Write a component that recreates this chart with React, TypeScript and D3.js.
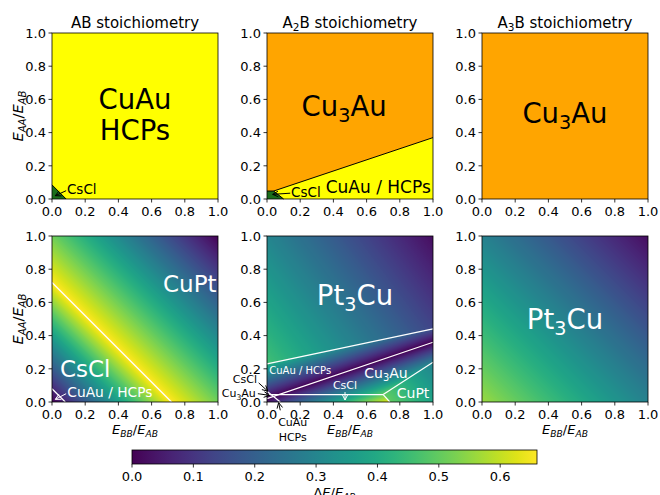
import React, { useMemo } from "react";
import * as d3 from "d3";

const FONT = "DejaVu Sans";
const YELLOW = "#ffff00";
const ORANGE = "#ffa500";
const GREEN = "#1b6e1b";

// layout of the 2x3 grid (pixels)
const panelLeft = [52, 267, 482];
const panelTop = [33, 236];
const panelSize = 166;

const axisTicks = [0, 0.2, 0.4, 0.6, 0.8, 1.0];
const cbTicks = [0, 0.1, 0.2, 0.3, 0.4, 0.5, 0.6];
const cbMax = 0.66;

type Part = { t: string; sub?: boolean; it?: boolean };

const titles: Part[][] = [
  [{ t: "AB stoichiometry" }],
  [{ t: "A" }, { t: "2", sub: true }, { t: "B stoichiometry" }],
  [{ t: "A" }, { t: "3", sub: true }, { t: "B stoichiometry" }],
];

const yLabel: Part[] = [
  { t: "E", it: true }, { t: "AA", sub: true, it: true }, { t: "/" },
  { t: "E", it: true }, { t: "AB", sub: true, it: true },
];
const xLabel: Part[] = [
  { t: "E", it: true }, { t: "BB", sub: true, it: true }, { t: "/" },
  { t: "E", it: true }, { t: "AB", sub: true, it: true },
];
const cbLabel: Part[] = [
  { t: "Δ" }, { t: "E", it: true }, { t: "/" },
  { t: "E", it: true }, { t: "AB", sub: true, it: true },
];

// top row: phase polygons in (E_BB/E_AB, E_AA/E_AB)
const FULL = [[0, 0], [1, 0], [1, 1], [0, 1]];
const abPhases = [
  { color: YELLOW, poly: FULL },
  { color: GREEN, poly: [[0, 0], [0.085, 0], [0, 0.085]] },
];
const a2bPhases = [
  { color: ORANGE, poly: FULL },
  { color: YELLOW, poly: [[0.1, 0], [1, 0], [1, 0.37], [0.04, 0.048]] },
  { color: GREEN, poly: [[0, 0], [0.1, 0], [0.04, 0.048], [0, 0.048]] },
];
const a3bPhases = [{ color: ORANGE, poly: FULL }];
const abBorders = [[[0, 0.085], [0.085, 0]]];
const a2bBorders = [
  [[0, 0.048], [0.04, 0.048], [1, 0.37]],
  [[0.04, 0.048], [0.1, 0]],
];

// bottom row: boundary lines and ΔE anchors [x, y, ΔE] per region
const abLine = [[0, 0.72], [0.72, 0]];
const abCorner = [[0, 0.08], [0.08, 0]];
const abAnchors = [
  [[0, 0, 0.0], [0.72, 0, 0.66], [0, 0.72, 0.66]],
  [[0.72, 0, 0.66], [0, 0.72, 0.66], [1, 1, 0.0]],
];

const a2bUpper = [[0, 0.23], [1, 0.44]];
const a2bLower = [[0, 0.02], [1, 0.36]];
const a2bFlat = [[0, 0.045], [0.7, 0.045]];
const a2bCuPtUp = [[0.7, 0.045], [1, 0.24]];
const a2bCuPtDown = [[0.7, 0.045], [0.74, 0]];
const a2bCorner = [[0, 0.065], [0.08, 0]];
const a2bAnchors = [
  [[0, 0.23, 0.46], [0, 1, 0.3], [1, 1, 0.02]],
  [[0, 0.02, 0], [1, 0.36, 0], [0, 0.23, 0.42]],
  [[0, 0.02, 0], [1, 0.36, 0], [0.7, 0.045, 0.5]],
  [[0.7, 0.045, 0.5], [1, 0.24, 0.29], [0.74, 0, 0.5]],
];

const a3bAnchors = [[[0, 0, 0.56], [1, 0, 0.29], [0, 1, 0.29]]];

// labels: [row, col, x, y, size, color, anchor, parts]
const labels: [number, number, number, number, number, string, string, Part[]][] = [
  [0, 0, 0.5, 0.6, 27.5, "black", "middle", [{ t: "CuAu" }]],
  [0, 0, 0.5, 0.415, 27.5, "black", "middle", [{ t: "HCPs" }]],
  [0, 0, 0.09, 0.06, 13.5, "black", "start", [{ t: "CsCl" }]],
  [0, 1, 0.465, 0.56, 27.5, "black", "middle", [{ t: "Cu" }, { t: "3", sub: true }, { t: "Au" }]],
  [0, 1, 0.67, 0.074, 17, "black", "middle", [{ t: "CuAu / HCPs" }]],
  [0, 1, 0.145, 0.04, 13.5, "black", "start", [{ t: "CsCl" }]],
  [0, 2, 0.5, 0.515, 27.5, "black", "middle", [{ t: "Cu" }, { t: "3", sub: true }, { t: "Au" }]],
  [1, 0, 0.83, 0.71, 23, "white", "middle", [{ t: "CuPt" }]],
  [1, 0, 0.2, 0.2, 23, "white", "middle", [{ t: "CsCl" }]],
  [1, 0, 0.092, 0.058, 13.8, "white", "start", [{ t: "CuAu / HCPs" }]],
  [1, 1, 0.53, 0.645, 27.5, "white", "middle", [{ t: "Pt" }, { t: "3", sub: true }, { t: "Cu" }]],
  [1, 1, 0.2, 0.19, 10, "white", "middle", [{ t: "CuAu / HCPs" }]],
  [1, 1, 0.717, 0.177, 14, "white", "middle", [{ t: "Cu" }, { t: "3", sub: true }, { t: "Au" }]],
  [1, 1, 0.47, 0.1, 11, "white", "middle", [{ t: "CsCl" }]],
  [1, 1, 0.88, 0.052, 14, "white", "middle", [{ t: "CuPt" }]],
  [1, 1, -0.133, 0.139, 11, "black", "middle", [{ t: "CsCl" }]],
  [1, 1, -0.17, 0.052, 11, "black", "middle", [{ t: "Cu" }, { t: "3", sub: true }, { t: "Au" }]],
  [1, 1, 0.155, -0.12, 11, "black", "middle", [{ t: "CuAu" }]],
  [1, 1, 0.155, -0.21, 11, "black", "middle", [{ t: "HCPs" }]],
  [1, 2, 0.5, 0.5, 27.5, "white", "middle", [{ t: "Pt" }, { t: "3", sub: true }, { t: "Cu" }]],
];

// arrows: [row, col, fromX, fromY, toX, toY, color]
const arrows: [number, number, number, number, number, number, string][] = [
  [0, 0, 0.085, 0.05, 0.02, 0.02, "black"],
  [0, 1, 0.14, 0.035, 0.034, 0.028, "black"],
  [1, 0, 0.085, 0.05, 0.02, 0.016, "white"],
  [1, 1, 0.47, 0.06, 0.47, 0.012, "white"],
  [1, 1, -0.05, 0.115, 0.005, 0.065, "black"],
  [1, 1, -0.055, 0.05, 0.015, 0.04, "black"],
  [1, 1, 0.08, -0.05, 0.07, -0.004, "black"],
];

const yAt = (l: number[][], x: number) =>
  l[0][1] + ((l[1][1] - l[0][1]) * (x - l[0][0])) / (l[1][0] - l[0][0]);
const xAt = (l: number[][], y: number) =>
  l[0][0] + ((l[1][0] - l[0][0]) * (y - l[0][1])) / (l[1][1] - l[0][1]);

function plane(a: number[][]) {
  const [[x1, y1, v1], [x2, y2, v2], [x3, y3, v3]] = a;
  const dx2 = x2 - x1, dy2 = y2 - y1, dx3 = x3 - x1, dy3 = y3 - y1;
  const det = dx2 * dy3 - dx3 * dy2;
  const b = ((v2 - v1) * dy3 - (v3 - v1) * dy2) / det;
  const c = (dx2 * (v3 - v1) - dx3 * (v2 - v1)) / det;
  return (x: number, y: number) => v1 + b * (x - x1) + c * (y - y1);
}

const abPick = (x: number, y: number) => (y < yAt(abLine, x) ? 0 : 1);
const a2bPick = (x: number, y: number) => {
  if (y > yAt(a2bUpper, x)) return 0;
  if (y > yAt(a2bLower, x)) return 1;
  const inCuPt =
    y >= a2bFlat[0][1]
      ? x > a2bCuPtUp[0][0] && y < yAt(a2bCuPtUp, x)
      : x > xAt(a2bCuPtDown, y);
  return inCuPt ? 3 : 2;
};
const a3bPick = () => 0;

const scalesFor = (row: number, col: number) => ({
  x: d3.scaleLinear().domain([0, 1]).range([panelLeft[col], panelLeft[col] + panelSize]),
  y: d3.scaleLinear().domain([0, 1]).range([panelTop[row] + panelSize, panelTop[row]]),
});

const colorScale = d3.scaleSequential(d3.interpolateViridis).domain([0, cbMax]).clamp(true);

function heatmapUrl(col: number, anchors: number[][][], pick: (x: number, y: number) => number) {
  const { x, y } = scalesFor(1, col);
  const planes = anchors.map(plane);
  const n = panelSize;
  const canvas = document.createElement("canvas");
  canvas.width = n;
  canvas.height = n;
  const ctx = canvas.getContext("2d")!;
  const img = ctx.createImageData(n, n);
  for (let j = 0; j < n; j++) {
    for (let i = 0; i < n; i++) {
      const dx = x.invert(panelLeft[col] + i + 0.5);
      const dy = y.invert(panelTop[1] + j + 0.5);
      const v = planes[pick(dx, dy)](dx, dy);
      const c = d3.rgb(colorScale(v));
      const k = (j * n + i) * 4;
      img.data[k] = c.r;
      img.data[k + 1] = c.g;
      img.data[k + 2] = c.b;
      img.data[k + 3] = 255;
    }
  }
  ctx.putImageData(img, 0, 0);
  return canvas.toDataURL();
}

function MText({ x, y, parts, size, fill = "black", anchor = "middle", transform }: any) {
  const shift = size * 0.22;
  const out: any[] = [];
  let down = false;
  parts.forEach((p: Part, i: number) => {
    let dy = 0;
    if (p.sub && !down) { dy = shift; down = true; }
    else if (!p.sub && down) { dy = -shift; down = false; }
    out.push(
      <tspan key={i} dy={dy} fontSize={p.sub ? size * 0.7 : size} fontStyle={p.it ? "italic" : "normal"}>
        {p.t}
      </tspan>
    );
  });
  return (
    <text x={x} y={y} fill={fill} textAnchor={anchor} fontFamily={FONT} fontSize={size} transform={transform}>
      {out}
    </text>
  );
}

function Axes({ row, col }: { row: number; col: number }) {
  const { x, y } = scalesFor(row, col);
  const L = panelLeft[col], T = panelTop[row];
  return (
    <g>
      <rect x={L} y={T} width={panelSize} height={panelSize} fill="none" stroke="black" strokeWidth={0.8} />
      {axisTicks.map((t) => (
        <g key={"x" + t}>
          <line x1={x(t)} x2={x(t)} y1={T + panelSize} y2={T + panelSize + 3.5} stroke="black" strokeWidth={0.8} />
          <text x={x(t)} y={T + panelSize + 16.5} textAnchor="middle" fontFamily={FONT} fontSize={13}>
            {t.toFixed(1)}
          </text>
          <line x1={L - 3.5} x2={L} y1={y(t)} y2={y(t)} stroke="black" strokeWidth={0.8} />
          <text x={L - 6} y={y(t) + 4.7} textAnchor="end" fontFamily={FONT} fontSize={13}>
            {t.toFixed(1)}
          </text>
        </g>
      ))}
    </g>
  );
}

function Arrow({ x1, y1, x2, y2, color }: any) {
  const ang = Math.atan2(y2 - y1, x2 - x1);
  const hl = 5.5, hw = 2.8;
  const bx = x2 - hl * Math.cos(ang), by = y2 - hl * Math.sin(ang);
  const px = -Math.sin(ang) * hw, py = Math.cos(ang) * hw;
  return (
    <g stroke={color} strokeWidth={1} fill="none">
      <line x1={x1} y1={y1} x2={x2} y2={y2} />
      <polyline points={`${bx + px},${by + py} ${x2},${y2} ${bx - px},${by - py}`} />
    </g>
  );
}

export default function App() {
  const heat = useMemo(
    () => [
      heatmapUrl(0, abAnchors, abPick),
      heatmapUrl(1, a2bAnchors, a2bPick),
      heatmapUrl(2, a3bAnchors, a3bPick),
    ],
    []
  );
  const phaseSets = [abPhases, a2bPhases, a3bPhases];
  const borderSets = [abBorders, a2bBorders, []];
  const whiteLines = [
    [abLine, abCorner],
    [a2bUpper, a2bLower, a2bFlat, a2bCuPtUp, a2bCuPtDown, a2bCorner],
    [],
  ];
  const line = (sx: any, sy: any) => d3.line<number[]>().x((d) => sx(d[0])).y((d) => sy(d[1]));

  const cbX = d3.scaleLinear().domain([0, cbMax]).range([132, 537]);
  const cbStops = d3.range(0, 1.0001, 0.05);

  return (
    <svg width={660} height={495} style={{ position: "absolute", left: 0, top: 0, background: "white" }}>
      <defs>
        <linearGradient id="cb" x1="0" x2="1" y1="0" y2="0">
          {cbStops.map((s) => (
            <stop key={s} offset={s} stopColor={d3.interpolateViridis(s)} />
          ))}
        </linearGradient>
      </defs>

      {[0, 1, 2].map((col) => {
        const { x, y } = scalesFor(0, col);
        const lg = line(x, y);
        return (
          <g key={"top" + col}>
            {phaseSets[col].map((p, i) => (
              <path key={i} d={lg(p.poly)! + "Z"} fill={p.color} />
            ))}
            {borderSets[col].map((b, i) => (
              <path key={i} d={lg(b)!} fill="none" stroke="black" strokeWidth={1} />
            ))}
            <Axes row={0} col={col} />
            <MText x={x(0.5)} y={27.5} size={15} parts={titles[col]} />
          </g>
        );
      })}

      {[0, 1, 2].map((col) => {
        const { x, y } = scalesFor(1, col);
        const lg = line(x, y);
        return (
          <g key={"bot" + col}>
            <image href={heat[col]} x={panelLeft[col]} y={panelTop[1]} width={panelSize} height={panelSize} preserveAspectRatio="none" />
            {whiteLines[col].map((l, i) => (
              <path key={i} d={lg(l)!} fill="none" stroke="white" strokeWidth={1.2} />
            ))}
            <Axes row={1} col={col} />
            <MText x={x(0.5)} y={434} size={13} parts={xLabel} />
          </g>
        );
      })}

      {labels.map(([row, col, lx, ly, size, fill, anchor, parts], i) => {
        const { x, y } = scalesFor(row, col);
        return (
          <MText key={"lab" + i} x={x(lx)} y={y(ly) + size * 0.36} size={size} fill={fill} anchor={anchor} parts={parts} />
        );
      })}

      {arrows.map(([row, col, fx, fy, tx, ty, color], i) => {
        const { x, y } = scalesFor(row, col);
        return <Arrow key={"ar" + i} x1={x(fx)} y1={y(fy)} x2={x(tx)} y2={y(ty)} color={color} />;
      })}

      {[0, 1].map((row) => (
        <MText
          key={"yl" + row}
          x={0}
          y={0}
          size={14.5}
          parts={yLabel}
          transform={`translate(23,${panelTop[row] + panelSize / 2}) rotate(-90)`}
        />
      ))}

      <rect x={132} y={450} width={405} height={14} fill="url(#cb)" stroke="black" strokeWidth={0.8} />
      {cbTicks.map((t) => (
        <g key={"cb" + t}>
          <line x1={cbX(t)} x2={cbX(t)} y1={464} y2={467.5} stroke="black" strokeWidth={0.8} />
          <text x={cbX(t)} y={481} textAnchor="middle" fontFamily={FONT} fontSize={13}>
            {t.toFixed(1)}
          </text>
        </g>
      ))}
      <MText x={334.5} y={497} size={13} parts={cbLabel} />
    </svg>
  );
}
